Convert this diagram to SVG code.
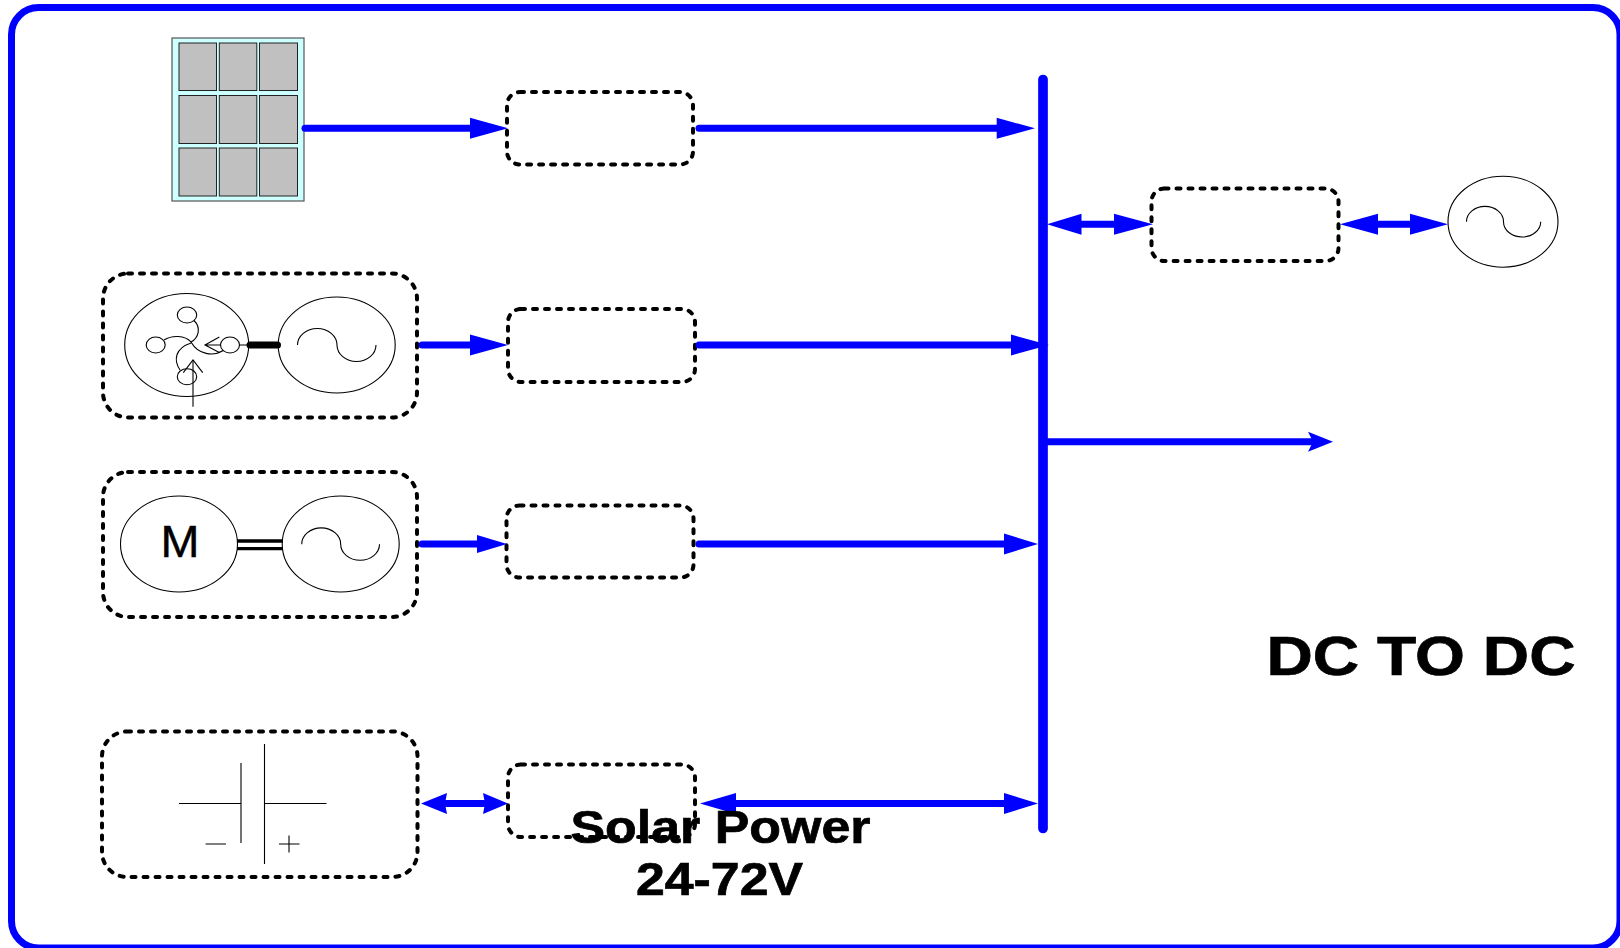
<svg xmlns="http://www.w3.org/2000/svg" width="1620" height="948" viewBox="0 0 1620 948">
<style>
.dash{fill:none;stroke:#000;stroke-width:4;stroke-dasharray:4 8;stroke-linecap:round}
.thin{fill:none;stroke:#000;stroke-width:1.1}
.wire{fill:none;stroke:#00f;stroke-width:7}
.head{fill:#00f;stroke:none}
.cell{fill:#c0c0c0;stroke:#222;stroke-width:1}
.txt{font-family:"Liberation Sans",Arial,sans-serif;font-weight:bold;fill:#000;stroke:#000;stroke-width:.7;text-anchor:middle}
</style>
<rect width="1620" height="948" fill="#fff"/>
<rect id="frame" x="11.500" y="7.500" width="1608.500" height="940.500" rx="27" fill="none" stroke="#00f" stroke-width="7"/>
<g id="solar-panel">
<rect x="172" y="38" width="132" height="163" fill="#ccffff" stroke="#555" stroke-width="1.200"/>
<rect class="cell" x="179" y="43" width="37.500" height="47.500"/><rect class="cell" x="219.300" y="43" width="37.500" height="47.500"/><rect class="cell" x="259.500" y="43" width="38" height="47.500"/>
<rect class="cell" x="179" y="95.500" width="37.500" height="48"/><rect class="cell" x="219.300" y="95.500" width="37.500" height="48"/><rect class="cell" x="259.500" y="95.500" width="38" height="48"/>
<rect class="cell" x="179" y="148" width="37.500" height="48"/><rect class="cell" x="219.300" y="148" width="37.500" height="48"/><rect class="cell" x="259.500" y="148" width="38" height="48"/>
</g>
<g id="converter-1"><rect class="dash" x="507" y="92" width="186" height="72.500" rx="13"/></g>
<g id="converter-2"><rect class="dash" x="508" y="309" width="187" height="73" rx="13"/></g>
<g id="converter-3"><rect class="dash" x="506.500" y="505.500" width="187" height="72" rx="13"/></g>
<g id="converter-4"><rect class="dash" x="508" y="764.500" width="187" height="72.500" rx="13"/></g>
<g id="converter-5"><rect class="dash" x="1151.500" y="188.500" width="187" height="72.500" rx="13"/></g>
<g id="wind-generator">
<rect class="dash" x="103" y="273.500" width="314" height="144" rx="25"/>
<ellipse class="thin" cx="186.700" cy="345" rx="62" ry="51.500"/>
<ellipse class="thin" cx="336.700" cy="345" rx="58.500" ry="48"/>
<path class="thin" d="M297.500 345A19.700 16.500 0 0 1 337 345A19.500 16.500 0 0 0 376 345"/>
<ellipse class="thin" cx="187" cy="315" rx="9.700" ry="8"/>
<ellipse class="thin" cx="155.700" cy="345" rx="9.500" ry="8"/>
<ellipse class="thin" cx="230" cy="345" rx="9.500" ry="8"/>
<ellipse class="thin" cx="187" cy="376.700" rx="9.700" ry="8"/>
<path class="thin" d="M194 320.500C201.700 328 198.300 338 191 342M164 340C171.700 335 185 335 191 342M223.300 350.500C213.300 356.500 198.300 355 191 342M180 370C173.300 360 175 348.300 191 343"/>
<path class="thin" d="M219.300 337L205 345L219.300 352.500M205 345H220M240 345H247" stroke-width="1.500"/>
<path class="thin" d="M193 406.700V360" stroke="#666"/>
<path class="thin" d="M183.300 372.700L193 360L202.700 372.700" stroke-width="1.500"/>
<path d="M250 345H277.500" fill="none" stroke="#000" stroke-width="7" stroke-linecap="round"/>
</g>
<g id="motor-generator">
<rect class="dash" x="103" y="472" width="314" height="145" rx="25"/>
<ellipse class="thin" cx="179" cy="544" rx="58.500" ry="48"/>
<ellipse class="thin" cx="340.700" cy="544" rx="58.500" ry="48"/>
<text x="180" y="557" font-family="Liberation Sans,Arial,sans-serif" font-size="44" text-anchor="middle" fill="#000" stroke="#000" stroke-width=".4" textLength="39" lengthAdjust="spacingAndGlyphs">M</text>
<path d="M237 541H283M237 548.700H283" fill="none" stroke="#000" stroke-width="3.300"/>
<path class="thin" d="M301.700 544.300A19 16 0 0 1 340.700 544.300A19.400 16 0 0 0 379.500 544.300"/>
</g>
<g id="battery">
<rect class="dash" x="102" y="731.500" width="315.500" height="145.500" rx="25"/>
<path class="thin" d="M264.500 744V864M241 763V843M179 803.500H241M264.500 803.500H326.500M205.600 844H226M279 844H299.500M289 835.500V852.500"/>
</g>
<g id="ac-source">
<ellipse class="thin" cx="1503" cy="221.700" rx="55" ry="45.500"/>
<path class="thin" d="M1466.500 221.700A18.500 15.300 0 0 1 1503.500 221.700A18.600 15.300 0 0 0 1540.700 221.700"/>
</g>
<g id="connectors">
<path d="M1043 79.500V828.500" fill="none" stroke="#00f" stroke-width="9.700" stroke-linecap="round"/>
<path class="wire" d="M305 128.300H475" stroke-linecap="round"/><polygon class="head" points="470,117.800 508,128.300 470,138.800"/>
<path class="wire" d="M699 128.300H1000" stroke-linecap="round"/><polygon class="head" points="996.700,117.800 1035,128.300 996.700,138.800"/>
<path class="wire" d="M422 345H475" stroke-linecap="round"/><polygon class="head" points="470,334.500 508,345 470,355.500"/>
<path class="wire" d="M699 345H1015" stroke-linecap="round"/><polygon class="head" points="1011,334.500 1049,345 1011,355.500"/>
<path class="wire" d="M422 544H480" stroke-linecap="round"/><polygon class="head" points="477,535 507,544 477,553"/>
<path class="wire" d="M699 544H1008" stroke-linecap="round"/><polygon class="head" points="1004,533.500 1038,544 1004,554.500"/>
<path class="wire" d="M1040 441.700H1318"/><polygon class="head" points="1308,431.700 1333,441.700 1308,451.700 1313,441.700"/>
<path class="wire" d="M1075 224.300H1120"/><polygon class="head" points="1081.500,213.800 1047,224.300 1081.500,234.800"/><polygon class="head" points="1114,213.800 1153,224.300 1114,234.800"/>
<path class="wire" d="M1375 224.300H1415"/><polygon class="head" points="1378,213.800 1340,224.300 1378,234.800"/><polygon class="head" points="1410,213.800 1448,224.300 1410,234.800"/>
<path class="wire" d="M445 803.500H485"/><polygon class="head" points="447,793 421,803.500 447,814 445,803.500"/><polygon class="head" points="483,793 508,803.500 483,814 485,803.500"/>
<path class="wire" d="M730 803.500H1008"/><polygon class="head" points="736,793 700,803.500 736,814"/><polygon class="head" points="1004,793 1038,803.500 1004,814"/>
</g>
<text class="txt" x="720.500" y="843" font-size="46" textLength="300" lengthAdjust="spacingAndGlyphs">Solar Power</text>
<text class="txt" x="719.500" y="894.500" font-size="46" textLength="167" lengthAdjust="spacingAndGlyphs">24-72V</text>
<text class="txt" x="1421" y="675" font-size="55" textLength="309" lengthAdjust="spacingAndGlyphs">DC TO DC</text>
</svg>
